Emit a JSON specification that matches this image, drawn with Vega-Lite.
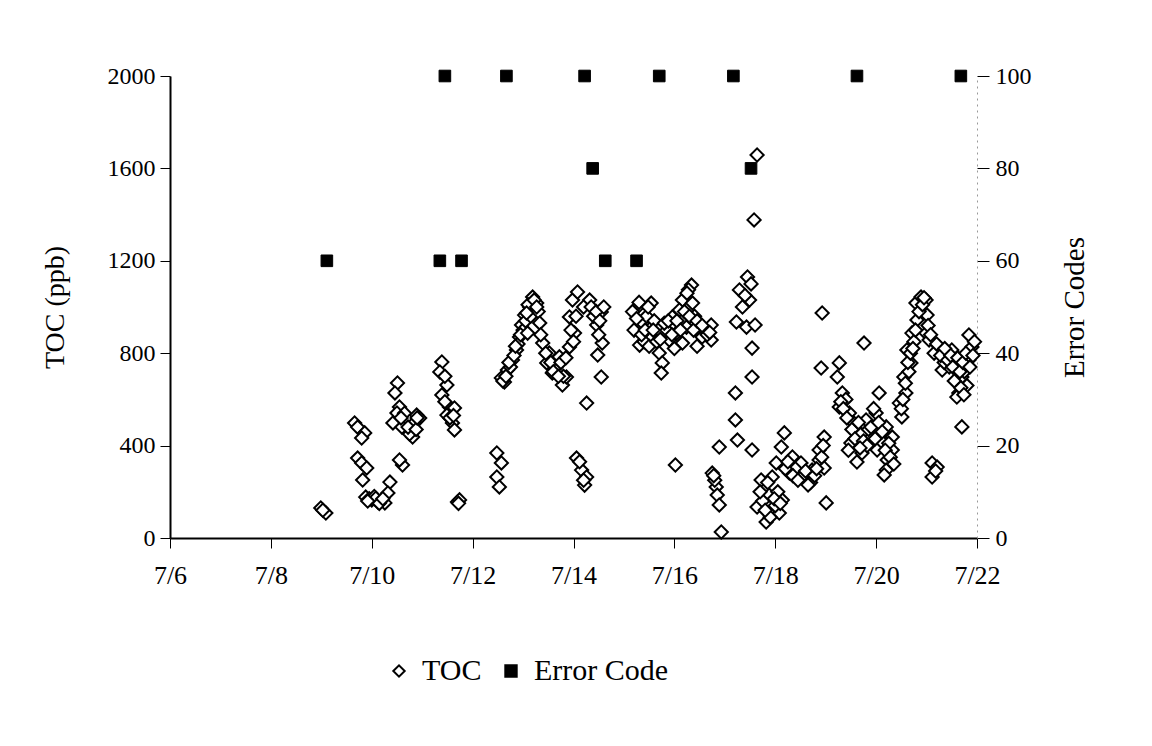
{
  "$schema": "https://vega.github.io/schema/vega-lite/v6.json",
  "width": 807,
  "height": 462,
  "padding": {"left": 41, "top": 64, "right": 5, "bottom": 5},
  "background": "white",
  "config": {
    "font": "Liberation Serif",
    "view": {"stroke": null},
    "axis": {"grid": false, "labelFont": "Liberation Serif", "titleFont": "Liberation Serif", "labelColor": "black", "titleColor": "black", "titleFontWeight": "normal", "domainColor": "black", "tickColor": "black"},
    "legend": {"labelFont": "Liberation Serif", "labelColor": "black", "orient": "none", "legendX": 214, "legendY": 580, "direction": "horizontal",
               "labelFontSize": 30, "symbolSize": 130, "symbolStrokeWidth": 2, "columnPadding": 14, "labelOffset": 8}
  },
  "datasets": {
    "toc": [
      {"day": 8.99, "toc": 130}, {"day": 9.09, "toc": 108}, {"day": 9.03, "toc": 120},
      {"day": 9.66, "toc": 498}, {"day": 9.72, "toc": 480}, {"day": 9.86, "toc": 455}, {"day": 9.80, "toc": 433},
      {"day": 9.72, "toc": 346}, {"day": 9.80, "toc": 325}, {"day": 9.90, "toc": 303}, {"day": 9.82, "toc": 251},
      {"day": 9.88, "toc": 177}, {"day": 10.00, "toc": 165}, {"day": 10.12, "toc": 156}, {"day": 10.26, "toc": 152},
      {"day": 10.36, "toc": 242}, {"day": 10.32, "toc": 195}, {"day": 10.61, "toc": 316}, {"day": 10.55, "toc": 338},
      {"day": 9.95, "toc": 170}, {"day": 10.05, "toc": 180}, {"day": 10.18, "toc": 160},
      {"day": 10.08, "toc": 172}, {"day": 10.15, "toc": 150}, {"day": 10.22, "toc": 170}, {"day": 9.92, "toc": 160},
      {"day": 10.51, "toc": 671}, {"day": 10.46, "toc": 628}, {"day": 10.55, "toc": 567}, {"day": 10.50, "toc": 541},
      {"day": 10.42, "toc": 498}, {"day": 10.69, "toc": 519}, {"day": 10.89, "toc": 532}, {"day": 10.79, "toc": 468},
      {"day": 10.81, "toc": 437}, {"day": 10.95, "toc": 519}, {"day": 10.85, "toc": 500}, {"day": 10.75, "toc": 450},
      {"day": 10.60, "toc": 480}, {"day": 10.65, "toc": 540}, {"day": 10.58, "toc": 520}, {"day": 10.72, "toc": 480},
      {"day": 10.88, "toc": 470}, {"day": 10.90, "toc": 520},
      {"day": 11.39, "toc": 762}, {"day": 11.35, "toc": 719}, {"day": 11.49, "toc": 662}, {"day": 11.39, "toc": 619},
      {"day": 11.54, "toc": 567}, {"day": 11.64, "toc": 563}, {"day": 11.49, "toc": 532}, {"day": 11.60, "toc": 498},
      {"day": 11.64, "toc": 468}, {"day": 11.70, "toc": 156}, {"day": 11.74, "toc": 165}, {"day": 11.72, "toc": 150},
      {"day": 11.45, "toc": 590}, {"day": 11.55, "toc": 520}, {"day": 11.62, "toc": 530}, {"day": 11.45, "toc": 700},
      {"day": 12.48, "toc": 368}, {"day": 12.57, "toc": 325}, {"day": 12.48, "toc": 264}, {"day": 12.53, "toc": 221},
      {"day": 12.57, "toc": 693}, {"day": 12.63, "toc": 675}, {"day": 12.69, "toc": 727}, {"day": 12.79, "toc": 771},
      {"day": 12.87, "toc": 814}, {"day": 12.93, "toc": 870}, {"day": 12.97, "toc": 922}, {"day": 13.03, "toc": 965},
      {"day": 13.13, "toc": 1000}, {"day": 13.19, "toc": 1043}, {"day": 13.27, "toc": 1017}, {"day": 12.60, "toc": 680},
      {"day": 12.75, "toc": 740}, {"day": 12.90, "toc": 840}, {"day": 13.00, "toc": 900},
      {"day": 12.66, "toc": 700}, {"day": 12.72, "toc": 760}, {"day": 12.82, "toc": 790}, {"day": 12.85, "toc": 830},
      {"day": 12.95, "toc": 880}, {"day": 13.05, "toc": 940}, {"day": 13.10, "toc": 1010}, {"day": 13.22, "toc": 1030},
      {"day": 13.15, "toc": 960}, {"day": 13.30, "toc": 980},
      {"day": 13.27, "toc": 1000}, {"day": 13.07, "toc": 974}, {"day": 13.33, "toc": 931}, {"day": 13.09, "toc": 887},
      {"day": 13.39, "toc": 844}, {"day": 13.52, "toc": 801}, {"day": 13.47, "toc": 758}, {"day": 13.58, "toc": 714},
      {"day": 13.78, "toc": 662}, {"day": 13.86, "toc": 697}, {"day": 13.72, "toc": 784}, {"day": 13.92, "toc": 827},
      {"day": 14.02, "toc": 887}, {"day": 13.92, "toc": 957}, {"day": 13.98, "toc": 1030}, {"day": 14.08, "toc": 1065},
      {"day": 14.32, "toc": 1030}, {"day": 14.55, "toc": 978}, {"day": 14.46, "toc": 922}, {"day": 14.57, "toc": 844},
      {"day": 14.48, "toc": 792}, {"day": 14.55, "toc": 697}, {"day": 14.26, "toc": 584}, {"day": 13.65, "toc": 740},
      {"day": 13.80, "toc": 700}, {"day": 14.20, "toc": 1000}, {"day": 14.40, "toc": 960},
      {"day": 13.35, "toc": 880}, {"day": 13.45, "toc": 800}, {"day": 13.55, "toc": 760}, {"day": 13.60, "toc": 720},
      {"day": 13.70, "toc": 700}, {"day": 13.75, "toc": 760}, {"day": 13.85, "toc": 780}, {"day": 13.95, "toc": 900},
      {"day": 14.05, "toc": 960}, {"day": 14.00, "toc": 850},
      {"day": 14.35, "toc": 1000}, {"day": 14.45, "toc": 980}, {"day": 14.50, "toc": 880}, {"day": 14.60, "toc": 1000},
      {"day": 14.52, "toc": 940},
      {"day": 14.06, "toc": 346}, {"day": 14.16, "toc": 294}, {"day": 14.26, "toc": 264}, {"day": 14.22, "toc": 229},
      {"day": 14.12, "toc": 330}, {"day": 14.20, "toc": 250},
      {"day": 15.27, "toc": 1000}, {"day": 15.54, "toc": 1017}, {"day": 15.37, "toc": 931}, {"day": 15.31, "toc": 835},
      {"day": 15.56, "toc": 870}, {"day": 15.70, "toc": 801}, {"day": 15.76, "toc": 758}, {"day": 15.74, "toc": 714},
      {"day": 15.90, "toc": 857}, {"day": 15.96, "toc": 957}, {"day": 16.16, "toc": 1030}, {"day": 16.34, "toc": 1095},
      {"day": 16.10, "toc": 987}, {"day": 16.36, "toc": 1017}, {"day": 16.24, "toc": 913}, {"day": 16.16, "toc": 844},
      {"day": 16.50, "toc": 887}, {"day": 16.73, "toc": 922}, {"day": 16.73, "toc": 857}, {"day": 16.55, "toc": 870},
      {"day": 16.04, "toc": 887}, {"day": 15.17, "toc": 980}, {"day": 15.20, "toc": 900}, {"day": 15.45, "toc": 960},
      {"day": 15.60, "toc": 940}, {"day": 15.85, "toc": 900}, {"day": 16.28, "toc": 1075}, {"day": 16.40, "toc": 960},
      {"day": 16.60, "toc": 900}, {"day": 16.00, "toc": 820}, {"day": 15.40, "toc": 850}, {"day": 16.45, "toc": 830},
      {"day": 15.25, "toc": 950}, {"day": 15.35, "toc": 880}, {"day": 15.42, "toc": 900}, {"day": 15.50, "toc": 830},
      {"day": 15.58, "toc": 900}, {"day": 15.65, "toc": 850}, {"day": 15.72, "toc": 860}, {"day": 15.80, "toc": 930},
      {"day": 15.88, "toc": 940}, {"day": 15.95, "toc": 880}, {"day": 16.05, "toc": 940}, {"day": 16.12, "toc": 900},
      {"day": 16.20, "toc": 980}, {"day": 16.30, "toc": 960}, {"day": 16.38, "toc": 900}, {"day": 16.45, "toc": 940},
      {"day": 16.55, "toc": 920}, {"day": 16.65, "toc": 880}, {"day": 16.70, "toc": 890}, {"day": 15.30, "toc": 1020},
      {"day": 15.48, "toc": 1000}, {"day": 16.25, "toc": 1060},
      {"day": 16.02, "toc": 316},
      {"day": 17.58, "toc": 1377}, {"day": 17.64, "toc": 1658}, {"day": 17.45, "toc": 1130}, {"day": 17.29, "toc": 1074},
      {"day": 17.49, "toc": 1030}, {"day": 17.23, "toc": 935}, {"day": 17.43, "toc": 913}, {"day": 17.54, "toc": 822},
      {"day": 17.54, "toc": 697}, {"day": 17.21, "toc": 628}, {"day": 17.21, "toc": 511}, {"day": 17.25, "toc": 424},
      {"day": 16.89, "toc": 394}, {"day": 17.54, "toc": 381}, {"day": 17.35, "toc": 1000}, {"day": 17.40, "toc": 1050},
      {"day": 17.60, "toc": 922}, {"day": 17.52, "toc": 1100},
      {"day": 16.75, "toc": 281}, {"day": 16.83, "toc": 221}, {"day": 16.85, "toc": 186}, {"day": 16.89, "toc": 143},
      {"day": 16.93, "toc": 26}, {"day": 16.80, "toc": 250}, {"day": 16.78, "toc": 270},
      {"day": 18.18, "toc": 455}, {"day": 18.12, "toc": 394}, {"day": 18.34, "toc": 351}, {"day": 18.02, "toc": 325},
      {"day": 17.72, "toc": 251}, {"day": 17.94, "toc": 264}, {"day": 17.88, "toc": 186}, {"day": 17.64, "toc": 134},
      {"day": 17.82, "toc": 69}, {"day": 17.94, "toc": 108}, {"day": 18.08, "toc": 108}, {"day": 18.14, "toc": 164},
      {"day": 18.28, "toc": 281}, {"day": 18.48, "toc": 281}, {"day": 18.61, "toc": 251}, {"day": 18.73, "toc": 294},
      {"day": 18.87, "toc": 338}, {"day": 18.97, "toc": 437}, {"day": 18.87, "toc": 381}, {"day": 18.97, "toc": 303},
      {"day": 19.01, "toc": 152}, {"day": 18.51, "toc": 325}, {"day": 17.75, "toc": 160}, {"day": 18.00, "toc": 140},
      {"day": 18.40, "toc": 300}, {"day": 18.55, "toc": 270}, {"day": 18.70, "toc": 240}, {"day": 18.20, "toc": 300},
      {"day": 17.90, "toc": 90}, {"day": 18.05, "toc": 200},
      {"day": 17.70, "toc": 200}, {"day": 17.80, "toc": 120}, {"day": 17.85, "toc": 240}, {"day": 17.98, "toc": 170},
      {"day": 18.10, "toc": 150}, {"day": 18.25, "toc": 330}, {"day": 18.35, "toc": 270}, {"day": 18.45, "toc": 250},
      {"day": 18.60, "toc": 290}, {"day": 18.65, "toc": 230}, {"day": 18.78, "toc": 270}, {"day": 18.82, "toc": 300},
      {"day": 18.92, "toc": 350}, {"day": 18.95, "toc": 400},
      {"day": 18.93, "toc": 974}, {"day": 18.91, "toc": 736}, {"day": 19.27, "toc": 758}, {"day": 19.23, "toc": 697},
      {"day": 19.76, "toc": 844},
      {"day": 19.33, "toc": 628}, {"day": 19.27, "toc": 567}, {"day": 19.47, "toc": 541}, {"day": 19.60, "toc": 468},
      {"day": 19.50, "toc": 411}, {"day": 19.62, "toc": 329}, {"day": 19.80, "toc": 511}, {"day": 20.00, "toc": 541},
      {"day": 20.06, "toc": 628}, {"day": 19.90, "toc": 437}, {"day": 20.02, "toc": 381}, {"day": 20.20, "toc": 481},
      {"day": 20.32, "toc": 437}, {"day": 20.22, "toc": 338}, {"day": 20.20, "toc": 294}, {"day": 20.16, "toc": 273},
      {"day": 20.32, "toc": 381}, {"day": 19.72, "toc": 368}, {"day": 19.40, "toc": 600}, {"day": 19.55, "toc": 500},
      {"day": 19.70, "toc": 450}, {"day": 19.85, "toc": 470}, {"day": 20.10, "toc": 420}, {"day": 19.95, "toc": 560},
      {"day": 19.30, "toc": 590}, {"day": 20.25, "toc": 410},
      {"day": 19.35, "toc": 560}, {"day": 19.42, "toc": 520}, {"day": 19.52, "toc": 470}, {"day": 19.58, "toc": 430},
      {"day": 19.65, "toc": 500}, {"day": 19.75, "toc": 420}, {"day": 19.82, "toc": 400}, {"day": 19.90, "toc": 480},
      {"day": 19.98, "toc": 430}, {"day": 20.05, "toc": 500}, {"day": 20.12, "toc": 460}, {"day": 20.18, "toc": 380},
      {"day": 20.28, "toc": 350}, {"day": 20.35, "toc": 320}, {"day": 19.45, "toc": 380}, {"day": 19.68, "toc": 390},
      {"day": 20.51, "toc": 524}, {"day": 20.46, "toc": 584}, {"day": 20.59, "toc": 628}, {"day": 20.55, "toc": 697},
      {"day": 20.69, "toc": 758}, {"day": 20.61, "toc": 814}, {"day": 20.71, "toc": 887}, {"day": 20.81, "toc": 944},
      {"day": 20.79, "toc": 1017}, {"day": 20.89, "toc": 1043}, {"day": 20.99, "toc": 1030}, {"day": 21.01, "toc": 965},
      {"day": 20.99, "toc": 887}, {"day": 21.05, "toc": 857}, {"day": 20.65, "toc": 720}, {"day": 20.75, "toc": 850},
      {"day": 20.50, "toc": 560},
      {"day": 20.53, "toc": 600}, {"day": 20.58, "toc": 670}, {"day": 20.63, "toc": 760}, {"day": 20.68, "toc": 800},
      {"day": 20.73, "toc": 820}, {"day": 20.78, "toc": 900}, {"day": 20.85, "toc": 980}, {"day": 20.92, "toc": 1010},
      {"day": 20.95, "toc": 1040}, {"day": 21.03, "toc": 920}, {"day": 21.08, "toc": 880},
      {"day": 21.25, "toc": 827}, {"day": 21.39, "toc": 784}, {"day": 21.50, "toc": 814}, {"day": 21.31, "toc": 727},
      {"day": 21.58, "toc": 758}, {"day": 21.84, "toc": 879}, {"day": 21.90, "toc": 827}, {"day": 21.84, "toc": 771},
      {"day": 21.70, "toc": 697}, {"day": 21.64, "toc": 628}, {"day": 21.60, "toc": 610}, {"day": 21.70, "toc": 481},
      {"day": 21.15, "toc": 800}, {"day": 21.45, "toc": 740}, {"day": 21.75, "toc": 720}, {"day": 21.95, "toc": 850},
      {"day": 21.55, "toc": 680}, {"day": 21.35, "toc": 760}, {"day": 21.80, "toc": 660},
      {"day": 21.20, "toc": 840}, {"day": 21.28, "toc": 790}, {"day": 21.36, "toc": 820}, {"day": 21.42, "toc": 770},
      {"day": 21.48, "toc": 790}, {"day": 21.52, "toc": 740}, {"day": 21.62, "toc": 780}, {"day": 21.66, "toc": 720},
      {"day": 21.72, "toc": 760}, {"day": 21.78, "toc": 800}, {"day": 21.86, "toc": 740}, {"day": 21.92, "toc": 790},
      {"day": 21.68, "toc": 650}, {"day": 21.74, "toc": 620},
      {"day": 21.11, "toc": 325}, {"day": 21.21, "toc": 307}, {"day": 21.11, "toc": 264}, {"day": 21.18, "toc": 290}
    ],
    "err": [
      {"day": 9.11, "code": 60}, {"day": 11.35, "code": 60}, {"day": 11.78, "code": 60},
      {"day": 11.45, "code": 100}, {"day": 12.67, "code": 100}, {"day": 14.22, "code": 100},
      {"day": 15.70, "code": 100}, {"day": 17.17, "code": 100}, {"day": 19.62, "code": 100},
      {"day": 21.68, "code": 100}, {"day": 14.38, "code": 80}, {"day": 17.52, "code": 80},
      {"day": 14.63, "code": 60}, {"day": 15.25, "code": 60}
    ]
  },
  "layer": [
    {
      "data": {"name": "toc"},
      "mark": {"type": "point", "shape": "diamond", "filled": true, "strokeWidth": 2, "size": 175, "opacity": 1, "clip": false},
      "encoding": {
        "x": {"field": "day", "type": "quantitative",
              "scale": {"domain": [6, 22], "nice": false, "zero": false},
              "axis": {"values": [6, 8, 10, 12, 14, 16, 18, 20, 22], "labelExpr": "'7/' + datum.value", "title": null,
                       "labelFontSize": 26, "tickSize": 10, "labelPadding": 14, "domainWidth": 2, "labelFlush": false}},
        "y": {"field": "toc", "type": "quantitative",
              "scale": {"domain": [0, 2000], "nice": false},
              "axis": {"values": [0, 400, 800, 1200, 1600, 2000], "format": "d", "title": "TOC (ppb)", "titleFontSize": 28,
                       "labelFontSize": 24, "tickSize": 10, "labelPadding": 5, "titlePadding": 38, "domainWidth": 2}},
        "shape": {"datum": "TOC", "type": "nominal",
                  "scale": {"domain": ["TOC", "Error Code"], "range": ["diamond", "square"]},
                  "legend": {"title": null}},
        "fill": {"datum": "TOC", "type": "nominal",
                 "scale": {"domain": ["TOC", "Error Code"], "range": ["white", "black"]},
                 "legend": {"title": null}},
        "stroke": {"datum": "TOC", "type": "nominal",
                   "scale": {"domain": ["TOC", "Error Code"], "range": ["black", "black"]},
                   "legend": {"title": null}}
      }
    },
    {
      "data": {"name": "err"},
      "mark": {"type": "point", "shape": "square", "filled": true, "strokeWidth": 1, "size": 135, "opacity": 1, "clip": false},
      "encoding": {
        "x": {"field": "day", "type": "quantitative"},
        "y": {"field": "code", "type": "quantitative",
              "scale": {"domain": [0, 100], "nice": false},
              "axis": {"orient": "right", "values": [0, 20, 40, 60, 80, 100], "title": "Error Codes", "titleFontSize": 29,
                       "titleAngle": 270, "labelFontSize": 24, "tickSize": 12, "labelPadding": 6, "titlePadding": 58,
                       "domainColor": "#999999", "domainDash": [2, 4], "domainWidth": 1}},
        "shape": {"datum": "Error Code", "type": "nominal"},
        "fill": {"datum": "Error Code", "type": "nominal"},
        "stroke": {"datum": "Error Code", "type": "nominal"}
      }
    }
  ],
  "resolve": {"scale": {"y": "independent"}}
}
